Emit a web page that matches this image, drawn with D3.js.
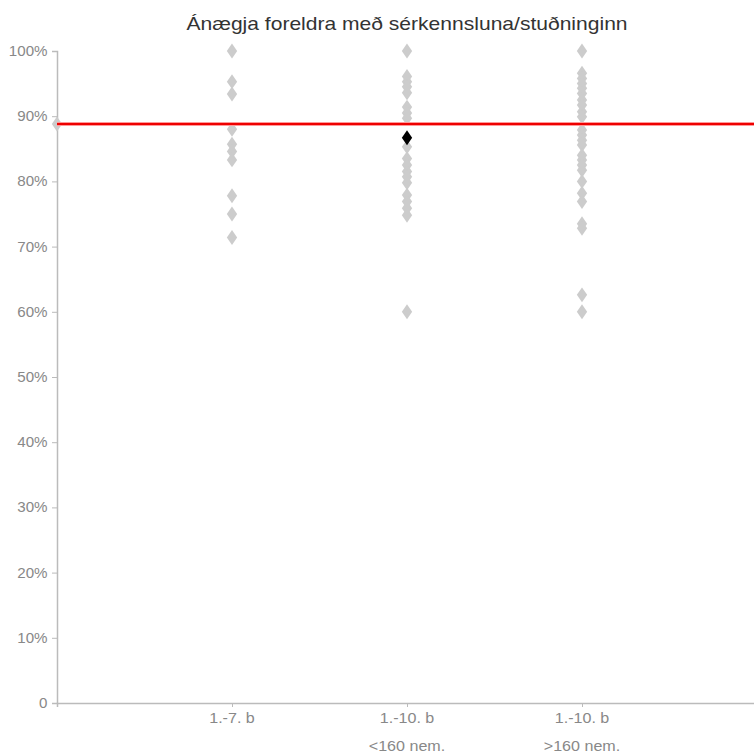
<!DOCTYPE html>
<html><head><meta charset="utf-8">
<script src="https://cdn.jsdelivr.net/npm/d3@7"></script>
<style>body{margin:0;background:#fff;} text{font-family:"Liberation Sans",Arial,sans-serif;}</style>
</head><body>
<svg id="c" width="754" height="755"></svg>
<script>
const title = "Ánægja foreldra með sérkennsluna/stuðninginn";
const categories = [["1.-7. b"], ["1.-10. b", "<160 nem."], ["1.-10. b", ">160 nem."]];
const group1 = [100, 95.3, 93.4, 88.0, 85.7, 84.6, 83.3, 77.8, 75.0, 71.4];
const group2 = [100, 96.1, 95.3, 94.5, 93.6, 91.4, 90.5, 89.7, 85.3, 83.5, 82.5, 81.5, 80.7, 79.8, 77.9, 76.9, 75.9, 74.8, 60.0];
const group3 = [100, 96.6, 95.8, 95.0, 94.3, 93.5, 92.5, 91.7, 90.7, 89.9, 87.9, 87.1, 86.3, 85.6, 84.0, 83.3, 82.5, 81.7, 80.0, 78.2, 76.9, 73.5, 72.8, 62.6, 60.0];
const highlight = {group: 2, value: 86.7};
const average = 88.8;
const yTicks = [0, 10, 20, 30, 40, 50, 60, 70, 80, 90, 100];

const svg = d3.select("#c");
const x = d3.scaleLinear().domain([0, 4]).range([57, 757]);
const y = d3.scaleLinear().domain([0, 100]).range([703, 51]);
const SX = 1.15;

svg.append("text").attr("transform", `translate(407,30) scale(1.17,1)`).attr("text-anchor", "middle")
  .attr("font-size", 18).attr("fill", "#333").text(title);

// y axis
const ya = svg.append("g").attr("transform", `translate(${x(0)},0)`)
  .call(d3.axisLeft(y).tickValues(yTicks).tickSize(5).tickFormat(d => d === 0 ? "0" : d + "%"));
ya.select(".domain").attr("stroke", "#bbb").attr("stroke-width", 1.5);
ya.selectAll(".tick line").attr("stroke", "#bbb");
ya.selectAll(".tick text").attr("fill", "#888").attr("font-size", 14)
  .attr("font-family", "Liberation Sans, Arial, sans-serif")
  .attr("x", -9.5 / 1.08).attr("transform", "scale(1.08,1)");

// x axis
const xa = svg.append("g").attr("transform", `translate(0,${y(0)})`)
  .call(d3.axisBottom(x).tickValues([1, 2, 3]).tickSize(4).tickFormat(""));
xa.select(".domain").attr("stroke", "#bbb").attr("stroke-width", 1.5);
xa.selectAll(".tick line").attr("stroke", "#bbb");
categories.forEach((lines, i) => {
  lines.forEach((t, j) => {
    svg.append("text").attr("transform", `translate(${x(i + 1)},${y(0) + 20 + j * 28}) scale(${SX},1)`)
      .attr("text-anchor", "middle").attr("font-size", 14).attr("fill", "#888").text(t);
  });
});

const diamond = d3.symbol().type(d3.symbolDiamond).size(64);
const groups = [group1, group2, group3];
const pts = [];
groups.forEach((g, i) => g.forEach(v => pts.push({g: i + 1, v})));
pts.push({g: 0, v: average});

svg.append("g").selectAll("path").data(pts).join("path")
  .attr("d", diamond)
  .attr("transform", d => `translate(${x(d.g)},${y(d.v)}) scale(1.2,1)`)
  .attr("fill", "#cccccc");

svg.append("line").attr("x1", x(0)).attr("x2", 754).attr("y1", y(average)).attr("y2", y(average))
  .attr("stroke", "#ff9999").attr("stroke-width", 4);
svg.append("line").attr("x1", x(0)).attr("x2", 754).attr("y1", y(average)).attr("y2", y(average))
  .attr("stroke", "#ee0000").attr("stroke-width", 2);

svg.append("path").attr("d", diamond)
  .attr("transform", `translate(${x(highlight.group)},${y(highlight.value)}) scale(1.2,1)`)
  .attr("fill", "#000");
</script>
</body></html>
